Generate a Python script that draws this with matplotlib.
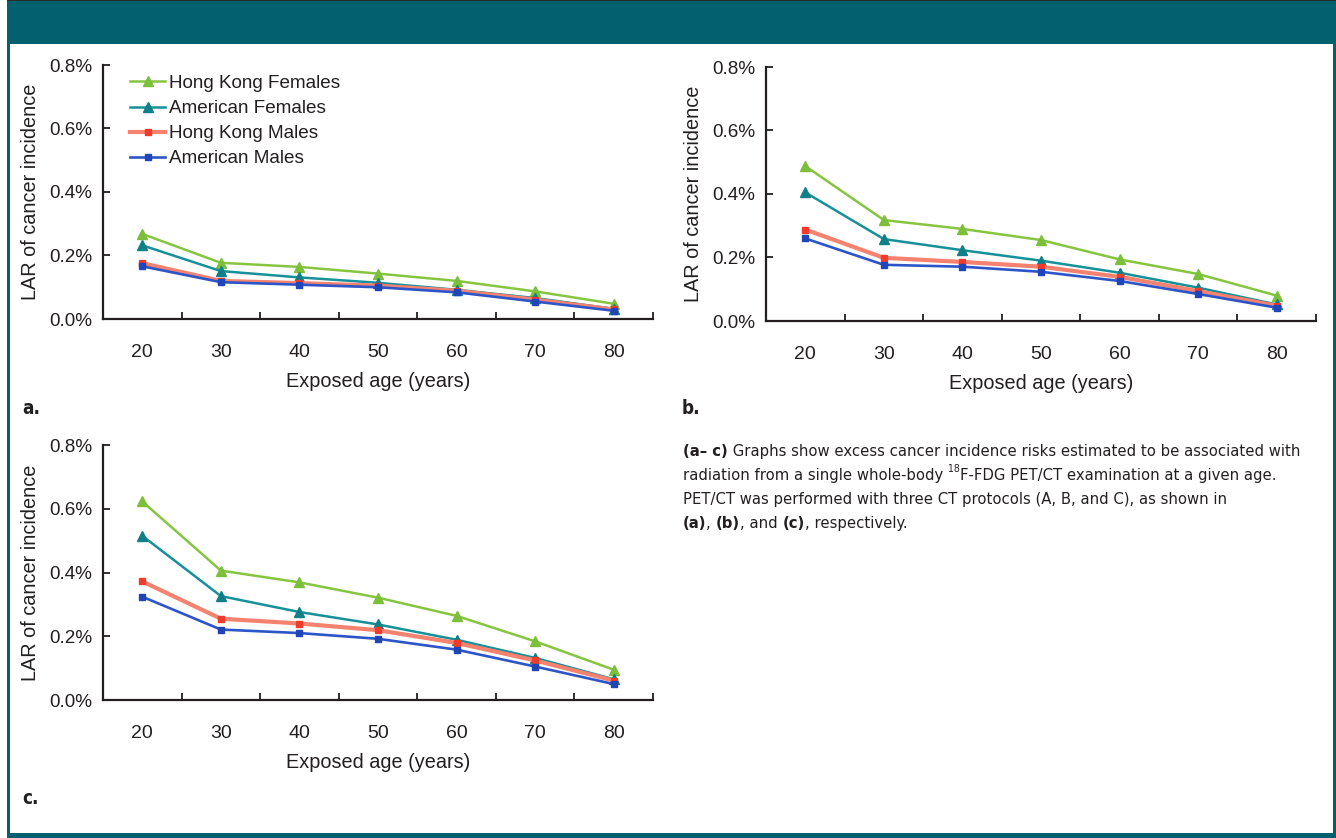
import matplotlib
matplotlib.use("Agg")
import matplotlib.pyplot as plt
from matplotlib.patches import Rectangle

# ---------------- data ----------------
ages = ["20", "30", "40", "50", "60", "70", "80"]
series_names = ["Hong Kong Females", "American Females", "Hong Kong Males", "American Males"]

# Panel a (protocol A), LAR in %
a_hk_f = [0.268, 0.177, 0.164, 0.143, 0.120, 0.087, 0.048]
a_us_f = [0.232, 0.151, 0.131, 0.114, 0.092, 0.066, 0.032]
a_hk_m = [0.176, 0.120, 0.113, 0.105, 0.089, 0.061, 0.030]
a_us_m = [0.166, 0.116, 0.108, 0.100, 0.084, 0.055, 0.026]

# Panel b (protocol B)
b_hk_f = [0.488, 0.318, 0.290, 0.255, 0.194, 0.148, 0.080]
b_us_f = [0.405, 0.258, 0.223, 0.190, 0.152, 0.105, 0.052]
b_hk_m = [0.288, 0.199, 0.186, 0.171, 0.139, 0.094, 0.048]
b_us_m = [0.260, 0.177, 0.171, 0.155, 0.126, 0.085, 0.042]

# Panel c (protocol C)
c_hk_f = [0.623, 0.406, 0.369, 0.321, 0.264, 0.184, 0.095]
c_us_f = [0.515, 0.326, 0.276, 0.237, 0.189, 0.132, 0.065]
c_hk_m = [0.372, 0.255, 0.240, 0.219, 0.179, 0.124, 0.061]
c_us_m = [0.324, 0.221, 0.210, 0.192, 0.158, 0.105, 0.050]

y_ticks = [0.0, 0.2, 0.4, 0.6, 0.8]
y_tick_labels = ["0.0%", "0.2%", "0.4%", "0.6%", "0.8%"]

# ---------------- style ----------------
W, H = 1336, 838
TEAL = "#03616D"
INK = "#231F20"
FONT = "Liberation Sans"
CAP_FONT = "DejaVu Sans"

styles = [
    dict(color="#86C540", marker="^", ms=6.5, lw=1.8, mfc="#7CBF3A", mec="#7CBF3A"),
    dict(color="#17909A", marker="^", ms=6.5, lw=1.8, mfc="#0F7F88", mec="#0F7F88"),
    dict(color="#F5826F", marker="s", ms=4.5, lw=3.0, mfc="#EE3B2B", mec="#EE3B2B"),
    dict(color="#2C55C8", marker="s", ms=4.5, lw=1.9, mfc="#1F45B8", mec="#1F45B8"),
]

fig = plt.figure(figsize=(W / 100, H / 100), dpi=100)
fig.patch.set_facecolor("white")


def px_rect(x0, y0, x1, y1, color):
    fig.patches.append(Rectangle((x0 / W, 1 - y1 / H), (x1 - x0) / W, (y1 - y0) / H,
                                 transform=fig.transFigure, facecolor=color,
                                 edgecolor="none", zorder=0))


# frame and header
px_rect(7, 0, W, 1.5, "#2A2A2A")
px_rect(7, 1.5, W, 44, TEAL)
px_rect(7, 44, 10, H, TEAL)
px_rect(W - 3, 44, W, H, TEAL)
px_rect(7, H - 5, W, H, TEAL)


def make_axes(x0, x1, ytop, ybot):
    return fig.add_axes([x0 / W, 1 - ybot / H, (x1 - x0) / W, (ybot - ytop) / H])


def draw_panel(ax, data, legend=False):
    xs = list(range(len(ages)))
    for vals, st, name in zip(data, styles, series_names):
        ax.plot(xs, vals, color=st["color"], lw=st["lw"], marker=st["marker"],
                ms=st["ms"], mfc=st["mfc"], mec=st["mec"], label=name,
                solid_joinstyle="round")
    ax.set_xlim(-0.5, len(ages) - 0.5)
    ax.set_ylim(0, 0.8)
    ax.set_xticks(xs)
    ax.set_xticklabels(ages, fontsize=14, family=FONT, color=INK)
    ax.set_xticks([i + 0.5 for i in xs], minor=True)
    ax.tick_params(axis="x", which="major", length=0, pad=18)
    ax.tick_params(axis="x", which="minor", direction="in", length=5, width=1.3, color=INK)
    ax.set_yticks(y_ticks)
    ax.set_yticklabels(y_tick_labels, fontsize=13.6, family=FONT, color=INK)
    ax.tick_params(axis="y", direction="in", length=5, width=1.3, color=INK, pad=8)
    for s in ["top", "right"]:
        ax.spines[s].set_visible(False)
    for s in ["left", "bottom"]:
        ax.spines[s].set_linewidth(1.6)
        ax.spines[s].set_color(INK)
    ax.set_xlabel("Exposed age (years)", fontsize=14.3, family=FONT, color=INK, labelpad=8)
    ax.set_ylabel("LAR of cancer incidence", fontsize=14.3, family=FONT, color=INK, labelpad=6)
    ax.patch.set_alpha(0)
    if legend:
        leg = ax.legend(loc="upper left", bbox_to_anchor=(0.027, 1.01), frameon=False,
                        prop=dict(family=FONT, size=13.6), handlelength=1.85,
                        handletextpad=0.2, labelspacing=0.42, borderaxespad=0.25)
        for t in leg.get_texts():
            t.set_color(INK)


ax_a = make_axes(103, 653, 65, 319)
draw_panel(ax_a, [a_hk_f, a_us_f, a_hk_m, a_us_m], legend=True)

ax_b = make_axes(766, 1316, 67, 321)
draw_panel(ax_b, [b_hk_f, b_us_f, b_hk_m, b_us_m])

ax_c = make_axes(103, 653, 445, 700)
draw_panel(ax_c, [c_hk_f, c_us_f, c_hk_m, c_us_m])

# panel letters
for lab, x, y in [("a.", 22, 408), ("b.", 682, 408), ("c.", 22, 798)]:
    fig.text(x / W, 1 - y / H, lab, fontsize=13.5, family=CAP_FONT, fontstretch="condensed",
             fontweight="bold", color=INK, va="center", ha="left")

# caption with mixed runs
fig.canvas.draw()
renderer = fig.canvas.get_renderer()

cap_lines = [
    [("(a\u2013 c)", "bold", "n"), (" Graphs show excess cancer incidence risks estimated to be associated with", "normal", "n")],
    [("radiation from a single whole-body ", "normal", "n"), ("18", "normal", "sup"),
     ("F-FDG PET/CT examination at a given age.", "normal", "n")],
    [("PET/CT was performed with three CT protocols (A, B, and C), as shown in", "normal", "n")],
    [("(a)", "bold", "n"), (", ", "normal", "n"), ("(b)", "bold", "n"), (", and ", "normal", "n"),
     ("(c)", "bold", "n"), (", respectively.", "normal", "n")],
]


def measure(runs, size):
    total = 0
    for text, weight, kind in runs:
        s = size * (0.62 if kind == "sup" else 1.0)
        t = fig.text(0, 0, text, fontsize=s, family=CAP_FONT, fontstretch="condensed",
                     fontweight=weight)
        total += t.get_window_extent(renderer=renderer).width
        t.remove()
    return total


BASE = 13.0
target_w = 612.0
w0 = measure(cap_lines[0], BASE)
CAP_SIZE = min(BASE * target_w / w0, 14.0)


def put_runs(x, y, runs):
    cx = x
    for text, weight, kind in runs:
        size = CAP_SIZE * (0.62 if kind == "sup" else 1.0)
        yy = y - (6 if kind == "sup" else 0)
        t = fig.text(cx / W, 1 - yy / H, text, fontsize=size, family=CAP_FONT,
                     fontstretch="condensed", fontweight=weight, color=INK,
                     va="center", ha="left")
        bb = t.get_window_extent(renderer=renderer)
        cx += bb.width


for i, runs in enumerate(cap_lines):
    put_runs(683, 451 + 24 * i, runs)

fig.savefig("out.png", dpi=100, facecolor="white")
